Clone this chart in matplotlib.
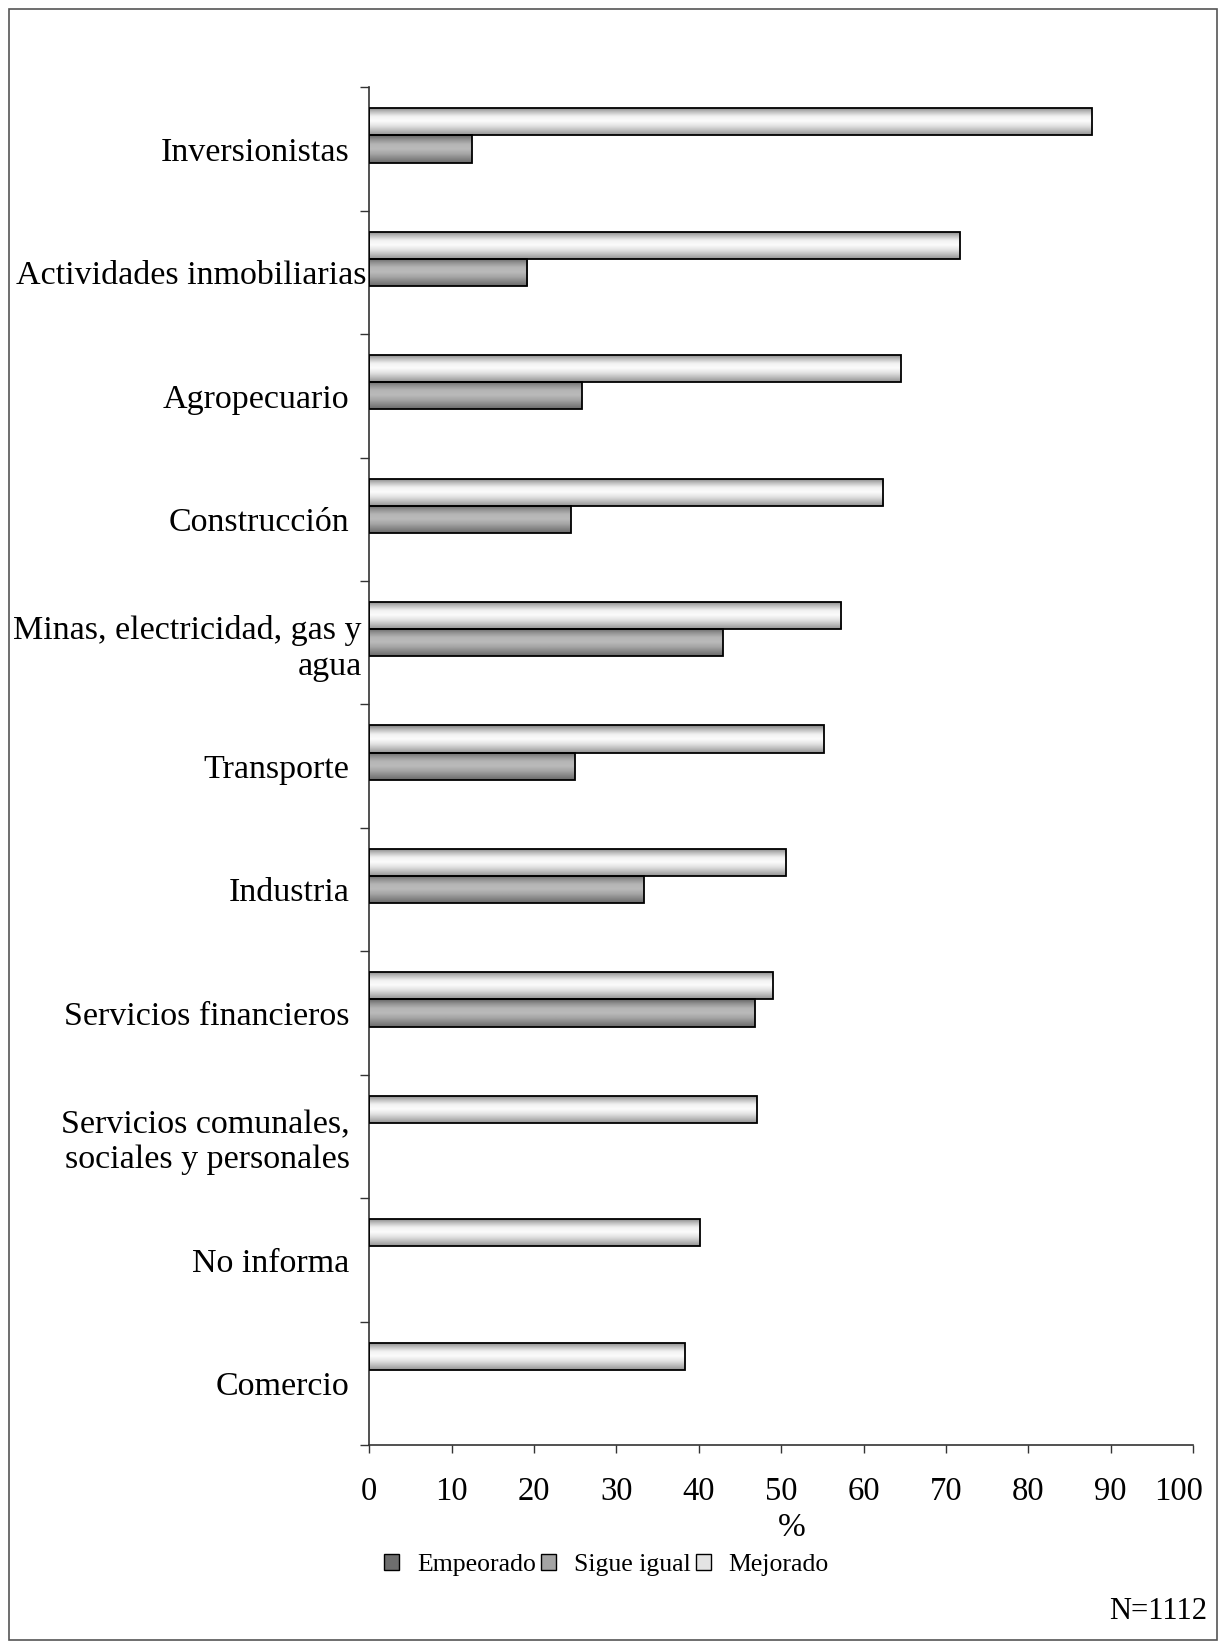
import matplotlib.pyplot as plt
import numpy as np
from matplotlib.colors import LinearSegmentedColormap
from matplotlib.patches import Rectangle, Patch
import matplotlib.transforms as mtransforms

plt.rcParams['font.family'] = ['Liberation Serif', 'DejaVu Serif']

# Datos (%)
categorias = ['Inversionistas', 'Actividades inmobiliarias', 'Agropecuario', 'Construcción',
              'Minas, electricidad, gas y\nagua', 'Transporte', 'Industria',
              'Servicios financieros', 'Servicios comunales,\nsociales y personales',
              'No informa', 'Comercio']
mejorado = [87.7, 71.7, 64.5, 62.4, 57.3, 55.2, 50.6, 49.0, 47.1, 40.1, 38.3]
sigue_igual = [12.5, 19.2, 25.8, 24.5, 42.9, 25.0, 33.3, 46.8, 0, 0, 0]
empeorado = [0, 0, 0, 0, 0, 0, 0, 0, 0, 0, 0]
series = ['Empeorado', 'Sigue igual', 'Mejorado']

# degradados verticales (de arriba hacia abajo) para imitar el relleno de Excel
grad_mejorado = LinearSegmentedColormap.from_list('mej', ['#808080', '#c0c0c0', '#f2f2f2', '#fcfcfc',
                                                          '#e4e4e4', '#bebebe', '#949494'])
grad_sigue = LinearSegmentedColormap.from_list('sig', ['#666666', '#949494', '#b6b6b6', '#bababa',
                                                       '#a6a6a6', '#888888', '#6a6a6a'])
grad_empeorado = LinearSegmentedColormap.from_list('emp', ['#4a4a4a', '#6e6e6e', '#8a8a8a', '#8e8e8e',
                                                           '#7a7a7a', '#5e5e5e', '#4a4a4a'])

fig = plt.figure(figsize=(12.2, 16.46), dpi=100)
ax = fig.add_axes([0.3027, 0.1221, 0.9779 - 0.3027, 0.9470 - 0.1221])

y = np.arange(len(categorias))
h = 0.22
grad = np.linspace(0, 1, 64).reshape(-1, 1)

for vals, off, cmap in [(mejorado, -h, grad_mejorado),
                        (sigue_igual, 0, grad_sigue),
                        (empeorado, h, grad_empeorado)]:
    bars = ax.barh(y + off, vals, height=h, facecolor='none', edgecolor='black',
                   linewidth=1.3, zorder=3)
    for bar in bars:
        w = bar.get_width()
        if w <= 0:
            bar.set_visible(False)
            continue
        y0 = bar.get_y()
        im = ax.imshow(grad, extent=(0, w, y0 + h, y0), origin='upper', aspect='auto',
                       cmap=cmap, vmin=0, vmax=1, interpolation='bicubic', zorder=2)
        im.set_clip_path(bar)

ax.set_xlim(0, 100)
ax.set_ylim(len(categorias) - 0.5, -0.5)

for s in ['top', 'right']:
    ax.spines[s].set_visible(False)
for s in ['left', 'bottom']:
    ax.spines[s].set_color('#333333')
    ax.spines[s].set_linewidth(1.2)

ax.set_yticks(np.arange(-0.5, len(categorias), 1))
ax.set_yticklabels([])
ax.set_yticks(y, minor=True)
ax.set_yticklabels(categorias, minor=True)
ax.tick_params(axis='y', which='major', length=6.2, width=1, color='#333333', direction='out')
ax.tick_params(axis='y', which='minor', length=0, pad=14.2, labelsize=24.5)

ax.set_xticks(range(0, 101, 10))
ax.tick_params(axis='x', length=5.8, width=1, color='#333333', pad=17, labelsize=23.5)

# las etiquetas largas se acercan más al eje en el original
for lab in ax.get_yticklabels(minor=True):
    if lab.get_text().startswith('Actividades'):
        lab.set_transform(lab.get_transform() +
                          mtransforms.ScaledTranslation(17 / 100, 0, fig.dpi_scale_trans))
    elif lab.get_text().startswith('Minas'):
        lab.set_transform(lab.get_transform() +
                          mtransforms.ScaledTranslation(12 / 100, 0, fig.dpi_scale_trans))
# el "100" queda algo corrido hacia la izquierda
last = ax.get_xticklabels()[-1]
last.set_transform(last.get_transform() +
                   mtransforms.ScaledTranslation(-14 / 100, 0, fig.dpi_scale_trans))

fig.text(0.649, 0.0717, '%', ha='center', va='center', fontsize=24)

handles = [Patch(facecolor=c, edgecolor='black', linewidth=1)
           for c in ['#6e6e6e', '#a4a4a4', '#e4e4e4']]
fig.legend(handles, series, loc='center', bbox_to_anchor=(0.497, 0.0492), ncol=3,
           frameon=False, fontsize=18.5, handlelength=0.58, handleheight=0.6,
           handletextpad=0.7, columnspacing=0.2)

fig.text(0.9893, 0.0207, 'N=1112', ha='right', va='center', fontsize=22)

fig.add_artist(Rectangle((9 / 1220, 6 / 1646), (1217 - 9) / 1220, (1640 - 9) / 1646,
                         transform=fig.transFigure, fill=False, edgecolor='#555555', linewidth=1.2))

fig.savefig('out.png', dpi=100)
